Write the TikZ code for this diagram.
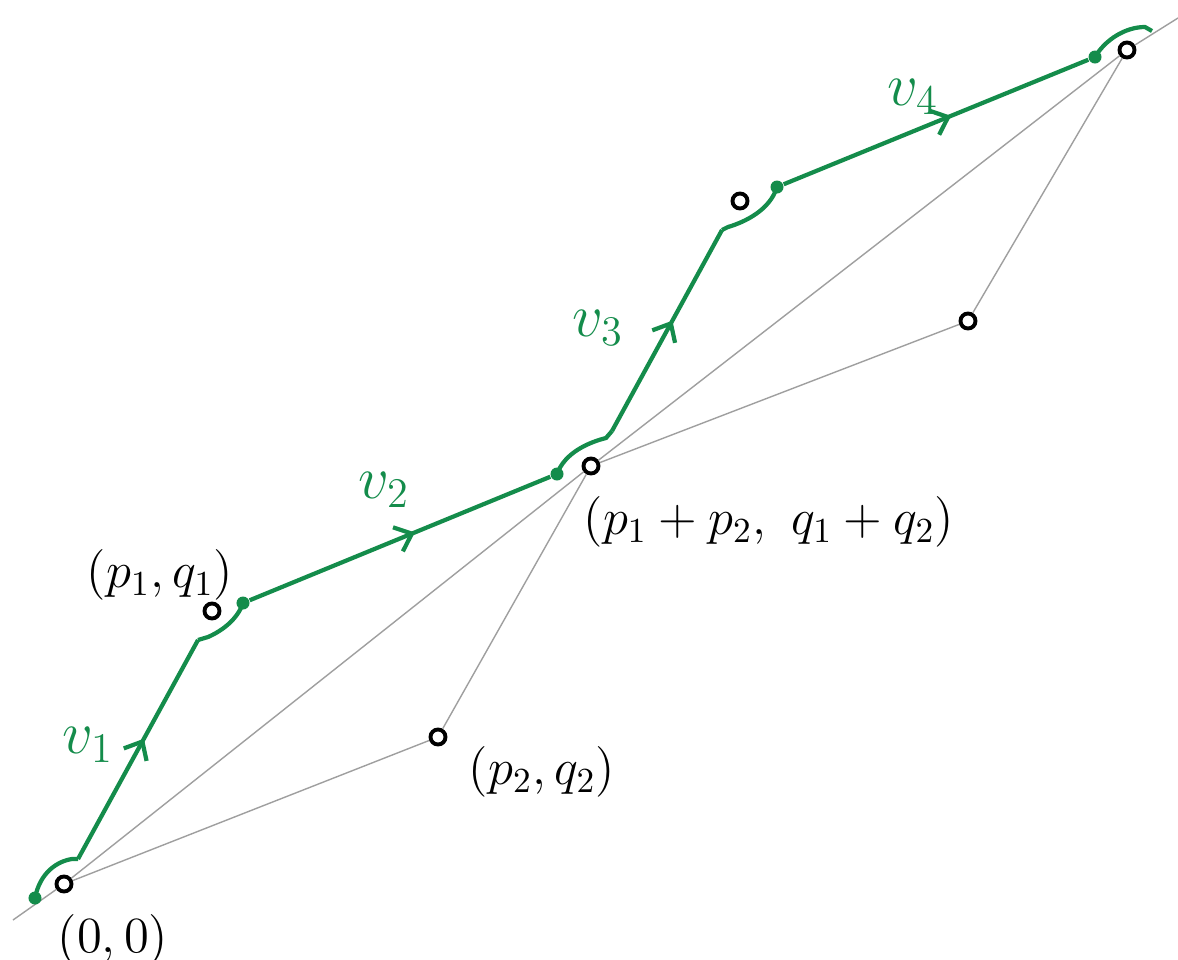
\documentclass[tikz,border=0pt]{standalone}
\usepackage{amsmath,amssymb}
\usepackage{xcolor}
\usepackage{tikz}
\usetikzlibrary{arrows.meta,decorations.markings}
\definecolor{vgreen}{RGB}{20,140,75}
\tikzset{
  lattice/.style={circle, draw=black, line width=1.1pt, inner sep=0pt, minimum size=1.5mm},
  gdot/.style={circle, fill=vgreen, inner sep=0pt, minimum size=1.3mm},
  ray/.style={gray!75, line width=0.4pt},
  vec/.style={vgreen, line width=1.2pt, postaction={decorate},
    decoration={markings, mark=at position 0.55 with {\arrow{Straight Barb[length=1.5mm, width=2.6mm]}}}},
  curl/.style={vgreen, line width=1.2pt},
  lab/.style={font=\Large},
  vlab/.style={font=\LARGE, text=vgreen}
}

\begin{document}
\begin{tikzpicture}[x=0.01cm, y=-0.01cm]
\useasboundingbox (0,0) rectangle (1178,960);
% lattice points
\node[lattice] (O)  at (64,884)  {};
\node[lattice] (P1) at (212,611) {};
\node[lattice] (P2) at (438,737) {};
\node[lattice] (S)  at (591,466) {};
\node[lattice] (P3) at (740,201) {};
\node[lattice] (P4) at (968,321) {};
\node[lattice] (E)  at (1127,50) {};
\coordinate (tail) at (13,920);
\coordinate (head) at (1178,18);
% gray parallelograms
\draw[ray] (tail) -- (O);
\draw[ray] (E) -- (head);
\foreach \a/\b in {O/S, S/E, O/P2, P2/S, S/P4, P4/E}
  \draw[ray] (\a) -- (\b);
% green walk
\node[gdot] (a0) at (35,898)  {};
\node[gdot] (b0) at (243,603) {};
\node[gdot] (b1) at (557,474) {};
\node[gdot] (d0) at (777,187) {};
\node[gdot] (d1) at (1095,57) {};
\coordinate (a1) at (78,859);
\coordinate (a2) at (198,640);
\coordinate (c0) at (612,431);
\coordinate (c1) at (722,230);
\coordinate (ee) at (1152,31);
\draw[curl] (a0.center) .. controls (40,872) and (58,861) .. (72,859) -- (a1);
\draw[vec] (a1) -- (a2);
\draw[curl] (a2) -- (208,637) .. controls (224,630) and (238,618) .. (b0.center);
\draw[vec] (b0) -- (b1);
\draw[curl] (b1.center) .. controls (565,452) and (590,442) .. (606,438) -- (c0);
\draw[vec] (c0) -- (c1);
\draw[curl] (c1) -- (728,227) .. controls (745,222) and (770,210) .. (d0.center);
\draw[vec] (d0) -- (d1);
\draw[curl] (d1.center) .. controls (1105,40) and (1125,27) .. (1145,27) -- (ee);
% labels
\node[vlab] (v1) at (88,745) {$v_1$};
\node[vlab] (v2) at (384,490) {$v_2$};
\node[vlab] (v3) at (598,328) {$v_3$};
\node[vlab] (v4) at (913,97) {$v_4$};
\node[lab] (lP1) at (160,575) {$(p_1, q_1)$};
\node[lab] (lP2) at (542,772) {$(p_2, q_2)$};
\node[lab] (lS)  at (769,522) {$(p_1+p_2,\ q_1+q_2)$};
\node[lab] (lO)  at (113,940) {$(0,0)$};
\end{tikzpicture}
\end{document}
